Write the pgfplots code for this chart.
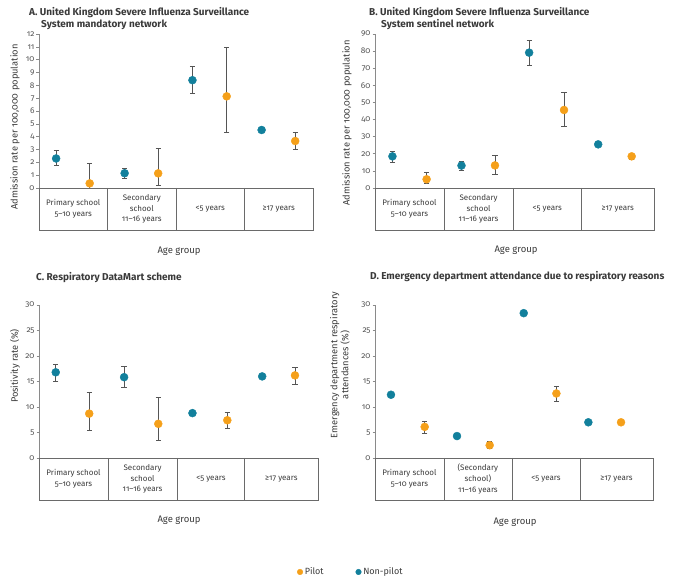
\documentclass[border=0pt]{standalone}
\usepackage{pgfplots}
\pgfplotsset{compat=1.18}
\usepackage{fontspec}
\setmainfont{Fira Sans}[Numbers=OldStyle]
\definecolor{porange}{HTML}{F5A01A}
\definecolor{nteal}{HTML}{12809C}
\definecolor{txt}{HTML}{3A3A3A}
\definecolor{tick}{HTML}{555555}
\definecolor{axl}{HTML}{8A8A8A}
\definecolor{boxl}{HTML}{6A6A6A}
\definecolor{errc}{HTML}{555555}

\pgfplotsset{
  panel/.style={
    scale only axis, xmin=0, xmax=4, ymin=0, clip=false,
    axis x line=none, axis y line=left,
    axis line style={draw=axl, -, line width=0.6pt},
    ytick style={draw=axl, line width=0.6pt},
    tick align=outside, major tick length=2.5pt,
    /pgf/number format/assume math mode=true,
    yticklabel style={font=\fontsize{8.3}{9}\selectfont, text=tick, inner sep=1.8pt},
  },
  np/.style={only marks, mark=*, mark size=4pt, mark options={draw=none, fill=nteal}, nteal,
    error bars/.cd, y dir=both, y explicit,
    error bar style={draw=errc, line width=0.6pt},
    error mark options={rotate=90, mark size=2.6pt, draw=errc, line width=0.6pt}},
  pp/.style={only marks, mark=*, mark size=4pt, mark options={draw=none, fill=porange}, porange,
    error bars/.cd, y dir=both, y explicit,
    error bar style={draw=errc, line width=0.6pt},
    error mark options={rotate=90, mark size=2.6pt, draw=errc, line width=0.6pt}},
}
\newcommand{\catbox}[7]{%
  \draw[boxl, line width=0.6pt] (axis cs:0,0) rectangle ([yshift=-42pt]axis cs:4,0);
  \draw[boxl, line width=0.6pt] (axis cs:#1,0) -- ++(0,-42pt);
  \draw[boxl, line width=0.6pt] (axis cs:#2,0) -- ++(0,-42pt);
  \draw[boxl, line width=0.6pt] (axis cs:#3,0) -- ++(0,-42pt);
  \node[lab] at ([yshift=-21pt]axis cs:{#1/2},0) {#4};
  \node[lab] at ([yshift=-21pt]axis cs:{(#1+#2)/2},0) {#5};
  \node[lab] at ([yshift=-21pt]axis cs:{(#2+#3)/2},0) {#6};
  \node[lab] at ([yshift=-21pt]axis cs:{(#3+4)/2},0) {#7};
}
\tikzset{lab/.style={align=center, font=\fontsize{8}{10.8}\selectfont, text=txt},
  ttl/.style={anchor=west, font=\fontsize{10}{11}\selectfont\bfseries, text=txt, inner sep=0pt},
  yl/.style={rotate=90, font=\fontsize{9.3}{11}\selectfont, text=txt, align=center},
  ag/.style={font=\fontsize{9.5}{11}\selectfont, text=txt}}

\begin{document}
\begin{tikzpicture}[x=1pt,y=1pt]
\path[use as bounding box] (0,0) rectangle (678,585);

% ---------------- Panel A ----------------
\begin{axis}[panel, at={(39pt,397pt)}, anchor=south west, width=274pt, height=154pt,
  ymax=12, ytick={0,1,...,12}]
\addplot+[np] table[x=x, y=y, y error plus=ep, y error minus=em] {
x y ep em
0.25 2.30 0.60 0.50
1.25 1.15 0.40 0.37
2.24 8.40 1.10 1.00
3.25 4.52 0.20 0.20
};
\addplot+[pp] table[x=x, y=y, y error plus=ep, y error minus=em] {
x y ep em
0.74 0.36 1.54 0.36
1.74 1.14 1.98 0.94
2.74 7.14 3.85 2.83
3.74 3.66 0.65 0.67
};
\catbox{1}{2}{3}{Primary school\\5–10 years}{Secondary\\school\\11–16 years}{<5 years}{≥17 years}
\end{axis}

% ---------------- Panel B ----------------
\begin{axis}[panel, at={(375pt,397pt)}, anchor=south west, width=279pt, height=154pt,
  ymax=90, ytick={0,10,...,90}]
\addplot+[np] table[x=x, y=y, y error plus=ep, y error minus=em] {
x y ep em
0.25 18.5 3.1 3.3
1.24 13.1 2.7 2.8
2.21 79.1 7.4 7.2
3.20 25.5 0.7 0.7
};
\addplot+[pp] table[x=x, y=y, y error plus=ep, y error minus=em] {
x y ep em
0.74 5.1 3.9 2.6
1.72 13.2 6.1 5.0
2.71 45.6 10.5 9.8
3.68 18.5 1.4 1.9
};
\catbox{0.99}{1.98}{2.96}{Primary school\\5–10 years}{Secondary\\school\\11–16 years}{<5 years}{≥17 years}
\end{axis}

% ---------------- Panel C ----------------
\begin{axis}[panel, at={(39pt,127pt)}, anchor=south west, width=279pt, height=153pt,
  ymax=30, ytick={0,5,...,30},
  legend style={at={(1.118,-0.745)}, anchor=center, draw=none, fill=none,
    legend columns=2, font=\fontsize{9}{10}\selectfont, text=txt,
    /tikz/every even column/.append style={column sep=30pt}},
  legend image post style={mark size=2.8pt}]
\addplot+[pp] table[x=x, y=y, y error plus=ep, y error minus=em] {
x y ep em
0.72 8.7 4.2 3.2
1.71 6.7 5.2 3.2
2.70 7.4 1.5 1.5
3.67 16.2 1.5 1.7
};
\addlegendentry{Pilot}
\addplot+[np] table[x=x, y=y, y error plus=ep, y error minus=em] {
x y ep em
0.24 16.80 1.60 1.70
1.22 15.85 2.15 2.05
2.20 8.80 0.30 0.30
3.20 16.00 0.20 0.20
};
\addlegendentry{Non-pilot}
\catbox{0.99}{1.98}{2.95}{Primary school\\5–10 years}{Secondary\\school\\11–16 years}{<5 years}{≥17 years}
\end{axis}

% ---------------- Panel D ----------------
\begin{axis}[panel, at={(375pt,127pt)}, anchor=south west, width=278pt, height=153pt,
  ymax=30, ytick={0,5,...,30}]
\addplot+[np] table[x=x, y=y] {
x y
0.23 12.4
1.18 4.3
2.14 28.4
3.07 7.0
};
\addplot+[pp] table[x=x, y=y, y error plus=ep, y error minus=em] {
x y ep em
0.715 6.10 1.00 1.20
1.65 2.50 0.75 0.60
2.61 12.65 1.45 1.45
3.54 7.00 0.00 0.00
};
\catbox{0.99}{1.97}{2.95}{Primary school\\5–10 years}{(Secondary\\school)\\11–16 years}{<5 years}{≥17 years}
\end{axis}

% ---------------- Titles and labels ----------------
\node[ttl] at (29,572) {A. United Kingdom Severe Influenza Surveillance};
\node[ttl] at (41,560) {System mandatory network};
\node[ttl] at (369,572) {B. United Kingdom Severe Influenza Surveillance};
\node[ttl] at (381,560) {System sentinel network};
\node[ttl] at (36,307) {C. Respiratory DataMart scheme};
\node[ttl] at (370,308) {D. Emergency department attendance due to respiratory reasons};

\node[yl] at (15,458) {Admission rate per 100,000 population};
\node[yl] at (347,462) {Admission rate per 100,000 population};
\node[yl] at (15,219) {Positivity rate (\%)};
\node[yl] at (340,220) {Emergency department respiratory\\attendances (\%)};

\node[ag] at (179,334) {Age group};
\node[ag] at (516,335) {Age group};
\node[ag] at (179,65) {Age group};
\node[ag] at (515,63) {Age group};
\end{tikzpicture}
\end{document}
